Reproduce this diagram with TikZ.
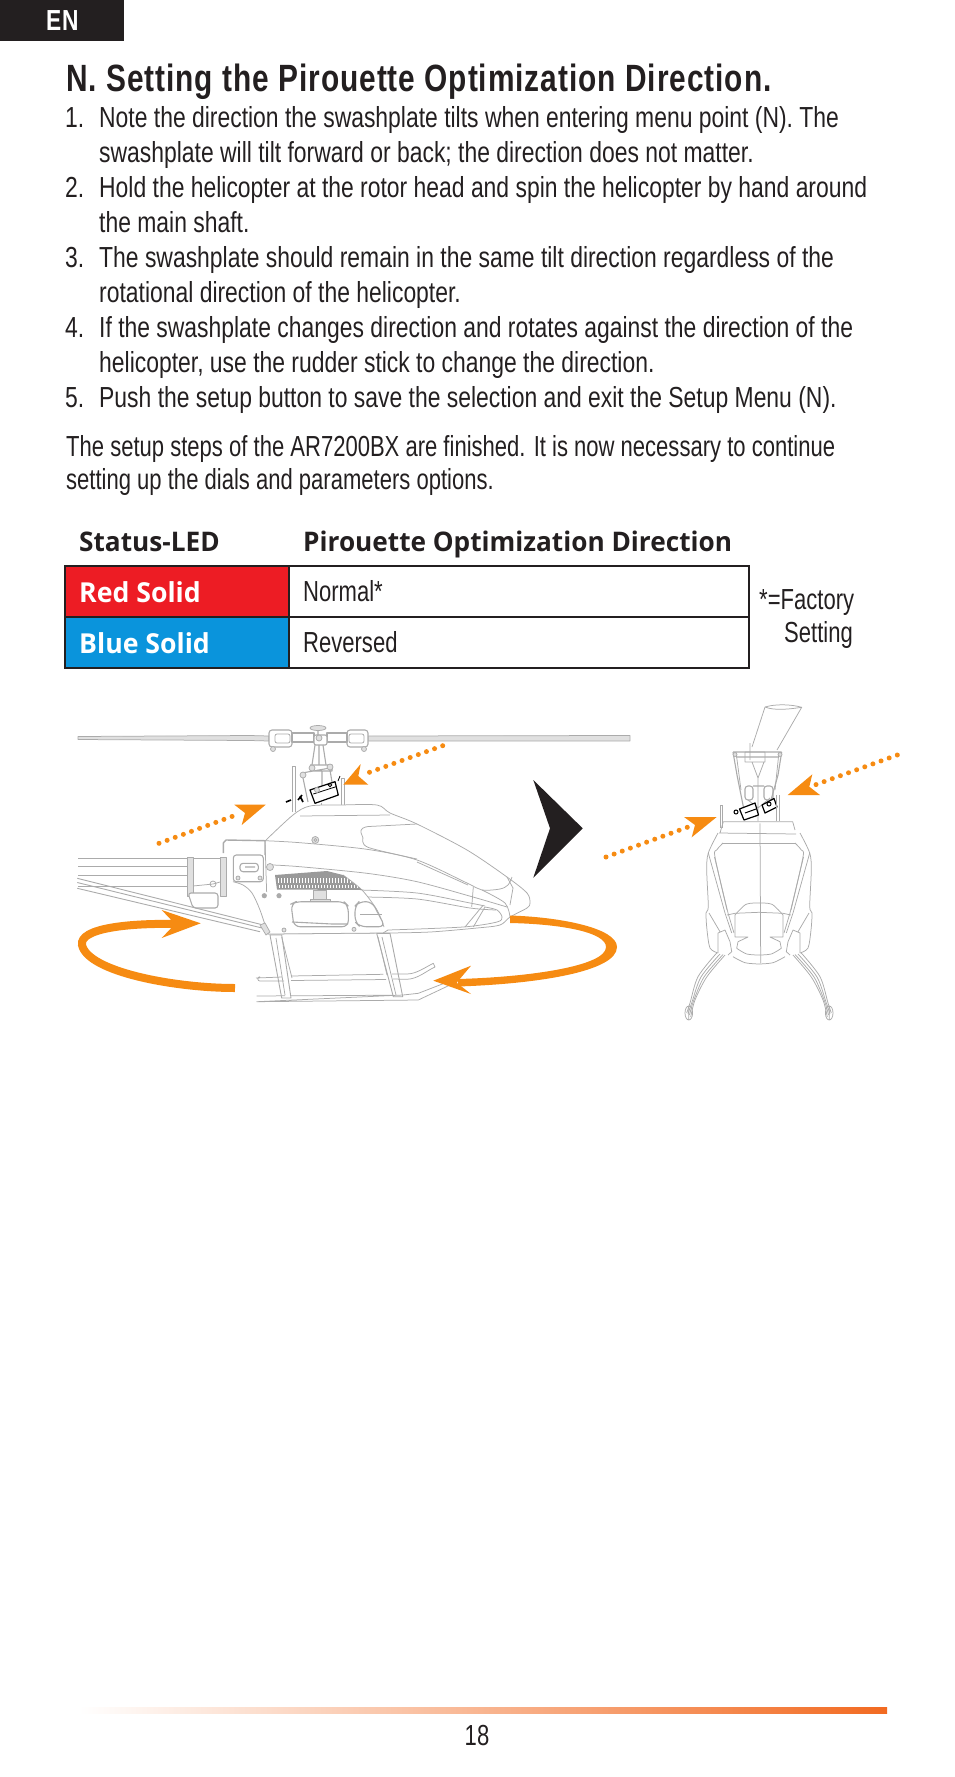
\documentclass[tikz,border=0pt]{standalone}
\usepackage{fontspec}
\usepackage{xcolor}
\usetikzlibrary{positioning}
\newfontfamily\bodyfont[FakeStretch=0.79]{Liberation Sans}
\newfontfamily\parafont[FakeStretch=0.76]{Liberation Sans}
\newfontfamily\headfont[FakeStretch=0.786,LetterSpace=2.5]{Liberation Sans Bold}
\newfontfamily\tablefont[FakeStretch=0.97]{Open Sans Bold}
\definecolor{inkblack}{HTML}{231F20}
\definecolor{ledred}{HTML}{ED1C24}
\definecolor{ledblue}{HTML}{0A94DC}
\definecolor{arroworange}{HTML}{F68B12}
\definecolor{footerorange}{HTML}{F26A21}
\definecolor{heliline}{HTML}{ABABAB}
\definecolor{helifill}{HTML}{E0E0E0}
\begin{document}
\begin{tikzpicture}[x=1pt,y=-1pt]
\tikzstyle{every node} = [inner sep=0pt, anchor=base west, text=inkblack]
\tikzstyle{bodyline} = [font=\bodyfont\fontsize{29}{35}\selectfont]
\tikzstyle{paraline} = [font=\parafont\fontsize{29}{35}\selectfont]
\tikzstyle{tablehead} = [font=\tablefont\fontsize{27}{32}\selectfont]
\tikzstyle{ledcell} = [font=\tablefont\fontsize{27.5}{32}\selectfont, text=white]
\tikzstyle{heli} = [draw=heliline, line width=.75pt, line join=round]
\tikzstyle{heliheavy} = [draw=heliline, line width=1.1pt, line join=round]
\tikzstyle{heliblock} = [heli, fill=helifill]
\tikzstyle{servo} = [draw=black, line width=1.2pt, fill=white, line join=round]
\tikzstyle{dotline} = [draw=arroworange, line width=5pt, line cap=round, dash pattern=on 0pt off 8.65pt]
\tikzstyle{orangehead} = [fill=arroworange]
\tikzstyle{orangeloop} = [draw=arroworange, line width=8pt]
\useasboundingbox (0,0) rectangle (954,1777);
\fill[inkblack] (0,0) rectangle (124,41);
\node[font=\headfont\fontsize{29}{32}\selectfont, text=white] (lang) at (46,31) {EN};
\node[font=\headfont\fontsize{38}{44}\selectfont] (title) at (66,92) {N. Setting the Pirouette Optimization Direction.};
\node[bodyline] (n1) at (65,127) {1.};
\node[bodyline] (l1) at (99,127) {Note the direction the swashplate tilts when entering menu point (N). The};
\node[bodyline] (l2) at (99,162) {swashplate will tilt forward or back; the direction does not matter.};
\node[bodyline] (n2) at (65,197) {2.};
\node[bodyline] (l3) at (99,197) {Hold the helicopter at the rotor head and spin the helicopter by hand around};
\node[bodyline] (l4) at (99,232) {the main shaft.};
\node[bodyline] (n3) at (65,267) {3.};
\node[bodyline] (l5) at (99,267) {The swashplate should remain in the same tilt direction regardless of the};
\node[bodyline] (l6) at (99,302) {rotational direction of the helicopter.};
\node[bodyline] (n4) at (65,337) {4.};
\node[bodyline] (l7) at (99,337) {If the swashplate changes direction and rotates against the direction of the};
\node[bodyline] (l8) at (99,372) {helicopter, use the rudder stick to change the direction.};
\node[bodyline] (n5) at (65,407) {5.};
\node[bodyline] (l9) at (99,407) {Push the setup button to save the selection and exit the Setup Menu (N).};
\node[paraline] (p1) at (66,456) {The setup steps of the AR7200BX are finished. It is now necessary to continue};
\node[paraline] (p2) at (66,489) {setting up the dials and parameters options.};
\node[tablehead] (headled) at (79,551) {Status-LED};
\node[tablehead] (headdir) at (303,551) {Pirouette Optimization Direction};
\fill[ledred] (65,566) rectangle (289,617);
\fill[ledblue] (65,617) rectangle (289,668);
\draw[inkblack, line width=1.8pt] (65,566) rectangle (749,668) (289,566) -- (289,668) (65,617) -- (749,617);
\node[ledcell] (redsolid) at (79,602) {Red Solid};
\node[ledcell] (bluesolid) at (79,653) {Blue Solid};
\node[paraline] (normal) at (303,601) {Normal*};
\node[paraline] (reversed) at (303,652) {Reversed};
\node[paraline] (factory) at (759,609) {*=Factory};
\node[paraline] (setting) at (784,642) {Setting};
\draw[heliblock] (78,736.5) -- (250,735.5) -- (269,736) -- (269,741) -- (250,740.5) -- (78,739.5) -- cycle;
\draw[heliblock] (368,736) -- (630,735.5) -- (630,741) -- (368,741) -- cycle;
\draw[heliheavy, fill=white, rounded corners=3pt] (269,730) rectangle (292,747) (347,730) rectangle (368,747);
\draw[heli, rounded corners=2pt] (275,734) rectangle (290,743) (349,734) rectangle (364,743);
\draw[heliheavy] (292,733) rectangle (314,742) (327,733) rectangle (347,742);
\draw[heliheavy, fill=white, rounded corners=2pt] (314,735) rectangle (327,745);
\draw[heliblock] (273,749) circle[radius=2.5pt] (364,749) circle[radius=2.5pt] (319,738) circle[radius=3pt];
\draw[heliblock] (318,728) ellipse[x radius=8pt, y radius=2.5pt];
\draw[heliheavy] (318,730) -- (318,735) (315,745) -- (312,765) (323,745) -- (326,765) (319,745) -- (319,765);
\draw[heliheavy] (310,765) -- (332,765) -- (332,771) -- (310,771) (302,773) -- (330,768) (303,778) -- (308,802) (330,770) -- (332,782) (322,771) -- (322,787);
\draw[heliblock] (312,768) circle[radius=3pt] (330,767) circle[radius=3pt] (303,775) circle[radius=3pt];
\draw[heli] (292,812) -- (292,766) -- (295,766) -- (295,812) (341,805) -- (341,778) -- (344,778) -- (344,805) (321.7,803) -- (321.7,806);
\draw[servo] (310,790) -- (335,781.7) -- (338.3,795) -- (315,803.3) -- cycle;
\draw[black, line width=.8pt] (313.3,794) -- (336,786.7) (330,785) circle[radius=1.8pt] (338,781) -- (340,776);
\draw[heliblock] (317,790) circle[radius=2.5pt];
\draw[black, line width=1.6pt] (286,802) -- (291,800) (298,800) -- (302,795) (300,796) -- (303,802);
\draw[heli, fill=white] plot[smooth] coordinates {(265,841) (293,815) (310,806) (340,805) (377,805) (390,813) (417,824) (467,850) (507,877) (527,893) (530,903) (527,908) (510,917) (500,925) (477,928) (430,932) (388,933)} -- (268,934) -- cycle;
\draw[heli] (300,816) -- (390,815);
\draw[heli] plot[smooth] coordinates {(265,840.7) (300,842.7) (367,849.3) (417,860) (467,883) (482,890) (500,889) (508,885) (512,877)};
\draw[heli] plot[smooth] coordinates {(363,838) (368,847.3) (417,859)};
\draw[heli, rounded corners=3pt] (363,838) -- (360,830) -- (365,826.7) -- (417,824);
\draw[heli] (417,862) -- (468,885);
\draw[heli] plot[smooth] coordinates {(273,865) (300,866.7) (367,873.3) (417,881.7) (473,897) (507,907)};
\draw[heli] plot[smooth] coordinates {(360,890) (417,893) (470,903) (485,906)};
\draw[heli] plot[smooth] coordinates {(365,897) (417,899) (470,908) (496,910)};
\draw[heli] plot[smooth] coordinates {(482,890) (505,903) (510,917)};
\draw[heli] (507,877) -- (513,888) -- (510,905);
\draw[heli] (473.3,887) -- (471.7,907) (465,927) -- (483.3,905) (473.3,927) -- (485,907);
\draw[heli] plot[smooth] coordinates {(485,907) (497,910) (502,917) (497,922) (463,927) (388,930)};
\draw[heliblock] (315.3,840) circle[radius=3.5pt];
\draw[heli] (315.3,840) circle[radius=1.5pt];
\draw[heliheavy, line width=1.4pt, fill=white] (223.3,853) -- (223.3,843) -- (226,840) -- (265,840.7) -- (265,855);
\draw[heli, fill=white] plot[smooth] coordinates {(233,881.7) (243,885) (252,893) (260,910) (268,934)} -- (383,933) -- (388,930);
\draw[heli, fill=white] plot[smooth] coordinates {(343,875) (362,890) (377,910) (384,927)};
\draw[heliheavy, fill=white, rounded corners=3pt] (233.3,855) rectangle (263.3,881.7);
\draw[heliheavy, rounded corners=3pt] (240,863.3) rectangle (258.3,871.7) (245,867) -- (255,867);
\draw[heliblock] (270,867) circle[radius=3.5pt] (238,878) circle[radius=2pt] (260,878) circle[radius=2pt] (284,930) circle[radius=2pt] (354,929.3) circle[radius=2pt];
\fill[heliline] (264.3,895.7) circle[radius=2.6pt] (279,895.7) circle[radius=2.6pt];
\begin{scope}
\clip (275,875) -- (327,871) -- (343,875) -- (362,890) -- (277,889.5) -- cycle;
\fill[heliline!90!black] (270,868) rectangle (365,892);
\foreach \gearx in {278,281,...,358} {
\draw[white, line width=.9pt] (\gearx,878) -- (\gearx,883) (\gearx+1,885) -- (\gearx+1,888);
}
\end{scope}
\draw[heliblock] (313.3,890) rectangle (326.7,899) (310,899) rectangle (330,905);
\draw[heliheavy, fill=white, rounded corners=6pt] (291,904) -- (296,901.7) -- (344,901.7) -- (348.3,906) -- (348.3,926.7) -- (294,926.7) -- cycle;
\draw[heliheavy] (292,922) -- (332,924) -- (348,924);
\draw[heliheavy, fill=white, rounded corners=6pt] (355,906) -- (359,901.7) -- (372,901.7) -- (385,926.7) -- (360,926.7) -- (355,922) -- cycle;
\draw[heli] (360,914) -- (382,914);
\draw[heli] (78,858.3) -- (224,858.3) (78,866.7) -- (187,866.7) (78,875) -- (187,875) (78,886.7) -- (187,886.7);
\draw[heliblock] (187,857) rectangle (193,896) (220,857) rectangle (226,896);
\draw[heliheavy, rounded corners=3pt, fill=white] (188,893) -- (218,893) -- (218,908) -- (193,908) -- cycle;
\draw[heli] (193,886) -- (213,884) -- (220,882) (213,884) circle[radius=3pt];
\draw[heliheavy, line width=.9pt] (77.3,878.3) -- (263.3,925) (77.3,882.5) -- (262,928) (77.3,888.3) -- (260,931.7);
\draw[heliblock] (260,925) -- (265,923) -- (270,932) -- (266,935) -- cycle;
\draw[heliheavy, line width=.9pt, fill=white] (270,935) -- (281.7,998) -- (291,998) -- (281.7,935) -- cycle;
\draw[heli] (281.7,937) -- (292,978) (276,938) -- (285,995);
\draw[heliheavy, line width=.9pt, fill=white] (376.7,933.3) -- (393.3,996.7) -- (402.7,996.7) -- (390,933.3) -- cycle;
\draw[heli] (378,937) -- (387,975) (382,937) -- (396,995);
\draw[heli] (291,976) -- (383.3,974.3) (256,978) -- (282,977) (260,976.7) arc[start angle=90, end angle=270, radius=2.2pt] -- (284,981) (291,980.5) -- (386,979.5);
\draw[heli] (393,979) -- (406.7,979.3) .. controls (418,979) and (426,971) .. (435,967) -- (433.3,963.3) .. controls (424,968) and (416,974) .. (406.7,974) -- (392,974);
\draw[heli] (256.7,996) -- (285,995.8) (291,995.8) -- (393,995.2) (403,995) -- (418.3,993.3) -- (448.3,981.7) -- (450,985) -- (418.3,1000) -- (256.7,1001.7) -- cycle;
\fill[inkblack] (533.3,780) -- (582.7,828.3) -- (533.3,877.7) -- (550,828.3) -- cycle;
\draw[orangeloop] (235,988) .. controls (175,988) and (88,972) .. (82,945) .. controls (79,928) and (130,923) .. (176,924);
\fill[orangehead] (200.7,923.3) -- (161.7,910) -- (175,924) -- (161.7,938) -- cycle;
\fill[arroworange] (510,915.5) .. controls (560,917) and (617,928) .. (617,947) .. controls (617,972) and (535,984) .. (458,986.5) -- (458,979) .. controls (530,977) and (606,966) .. (606,947) .. controls (606,932) and (560,924) .. (510,923) -- cycle;
\fill[orangehead] (433.3,980.7) -- (471,965.7) -- (456.7,982.7) -- (471,994) -- cycle;
\draw[dotline] (159,843.3) -- (240,813.5);
\fill[orangehead] (265.7,804.7) -- (234.3,804.7) -- (245,813) -- (241.7,825) -- cycle;
\draw[dotline] (442.7,745.7) -- (362,775);
\fill[orangehead] (343.3,784.7) -- (360.7,764) -- (358.3,776) -- (368.3,784.7) -- cycle;
\draw[dotline] (606,857) -- (690,826.3);
\fill[orangehead] (716.7,817) -- (684,817) -- (695,825) -- (691.7,837.3) -- cycle;
\draw[dotline] (897.3,755) -- (814,785.3);
\fill[orangehead] (787.7,795) -- (812.3,774.3) -- (809.3,786.7) -- (820,795) -- cycle;
\draw[heli] (752,747) -- (765,707) .. controls (775,704) and (790,704) .. (801.7,707.3) -- (777,750);
\draw[heli] (765,707) .. controls (775,711) and (790,709) .. (801.7,707.3);
\draw[heliheavy] (733,752) -- (781.7,752) (736,757) -- (779,757) (733,752) -- (737,775) -- (745,815) (781.7,752) -- (778,775) -- (771,800);
\draw[heli] (736,752) -- (741,790) (779,752) -- (775,790);
\draw[heliblock] (735,754.5) circle[radius=2pt] (780,754.5) circle[radius=2pt];
\draw[heli] (750,743) -- (750,760) (745,752) rectangle (765,762) (752,762) -- (758,778) -- (764,762) (758,778) -- (758,790);
\draw[heliheavy, rounded corners=3pt] (745,786) rectangle (753,800) (764,786) rectangle (773,800) (753,786) -- (764,786);
\draw[heli] (748,800) -- (758,808) -- (770,798) (758,790) -- (758,821);
\draw[servo] (739.5,809) -- (755,803) -- (758.5,815) -- (744,820) -- cycle;
\draw[servo] (762,805) -- (774,798.5) -- (777,807) -- (765,813) -- cycle;
\draw[black, line width=1pt] (736,812) circle[radius=2pt] (745,813) -- (756,809) (769,804) circle[radius=2pt];
\draw[heli] (720,805) -- (720,828) (722,805) -- (722,828) (720,805) -- (722,805) (776.7,795) -- (776.7,821) (779,795) -- (779,821);
\draw[heli] (723.3,821.7) -- (792.7,821.7) -- (795,830) (723.3,821.7) -- (720,833) (719,833) -- (796,834);
\draw[heli] (760,823.3) -- (760.7,963.3);
\foreach \sgn in {1,-1} {
\begin{scope}[shift={(759,0)},xscale=\sgn]
\draw[heli] plot[smooth] coordinates {(-41,833) (-50.7,853) (-52.3,870) (-50.7,906.7) (-53,913) (-52,930) (-49,948) (-41,953)};
\draw[heli] plot[smooth] coordinates {(-36,843) (-42.3,850) (-44,857) (-32,910)};
\draw[heli] (0,843) -- (-36,843);
\draw[heli] (-50.7,853) -- (-34,913) -- (-27.3,933) (-44.5,857) -- (-31,913) -- (-25,933);
\draw[heli] plot[smooth] coordinates {(-24,915) (-13,904.3) (0,903)};
\draw[heli] (-32,915) -- (-24,913.3) -- (0,912.3) (-24,915) -- (-24,937) -- (-11,937) -- (-21,941.7) -- (-22.3,948.3);
\draw[heli] plot[smooth] coordinates {(-22.3,948.3) (-12.3,954) (0,955)};
\draw[heli] plot[smooth] coordinates {(-26,956.7) (-14,962.7) (0,964)};
\draw[heli] (-41,953) -- (-41,933) -- (-34,930) -- (-29,941.7) -- (-27.3,951.7) -- (-31,955) (-50,913) -- (-39,931.7);
\draw[heli] plot[smooth] coordinates {(-42.3,953) (-61,976.7) (-69,1003) (-72.3,1013)};
\draw[heli] plot[smooth] coordinates {(-39,954) (-58,977) (-67,1002) (-71,1014)};
\draw[heli] plot[smooth] coordinates {(-36,954.5) (-55,977) (-65.5,1001) (-69.5,1015)};
\draw[heli] plot[smooth] coordinates {(-34,955) (-52.3,977) (-64,1000) (-68.3,1017)};
\draw[heli] (-70.2,1013) ellipse[x radius=3.8pt, y radius=7pt] (-70.2,1006) -- (-70.2,1020);
\end{scope}
}
\shade[left color=white, right color=footerorange] (79,1707) rectangle (887,1713);
\node[paraline, anchor=base] (pagenum) at (477,1745) {18};
\end{tikzpicture}
\end{document}
